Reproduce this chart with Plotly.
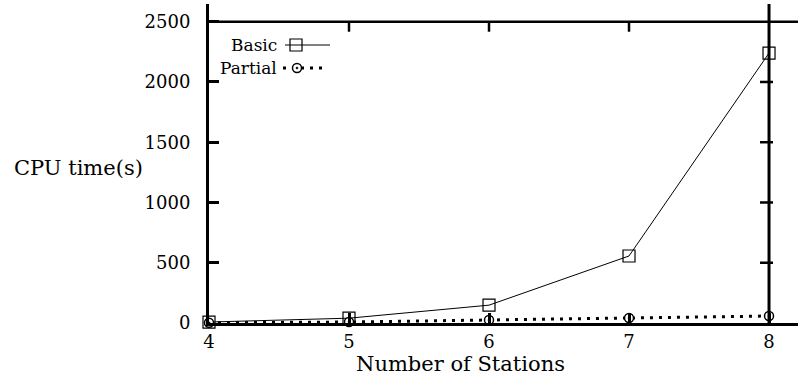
import plotly.graph_objects as go

stations = [4, 5, 6, 7, 8]
basic = [8, 40, 148, 556, 2240]
partial = [2, 8, 25, 41, 58]
y_ticks = [0, 500, 1000, 1500, 2000, 2500]
x_ticks = [4, 5, 6, 7, 8]

FONT = "DejaVu Serif"
W, H = 798, 381
L, R, T, B = 209, 0, 4, 58
PW, PH = W - L - R, H - T - B
Y_MAX = 2647


def px(xp):
    return (xp - L) / PW


def py(yp):
    return (H - B - yp) / PH


fig = go.Figure()

# top border tick marks (x = 5, 6, 7 hanging from the y = 2500 line)
tick_dy = 10 * Y_MAX / PH
tx, ty = [], []
for xv in x_ticks[1:-1]:
    tx += [xv, xv, None]
    ty += [2500, 2500 - tick_dy, None]
fig.add_trace(go.Scatter(x=tx, y=ty, mode="lines", line=dict(color="black", width=2.5),
                         showlegend=False, hoverinfo="skip", cliponaxis=False))

fig.add_trace(go.Scatter(
    x=stations, y=basic, mode="lines+markers", name="Basic",
    line=dict(color="black", width=1),
    marker=dict(symbol="square-open", size=12, color="black", line=dict(width=1.2)),
    cliponaxis=False, showlegend=False))
fig.add_trace(go.Scatter(
    x=stations, y=partial, mode="lines+markers", name="Partial",
    line=dict(color="black", width=3, dash="3px,6px"),
    marker=dict(symbol="circle-dot", size=9, color="white", line=dict(width=1.5, color="black")),
    cliponaxis=False, showlegend=False))

# legend samples in pixel-like overlay axes
fig.add_trace(go.Scatter(x=[285, 330], y=[45, 45], mode="lines", xaxis="x2", yaxis="y2",
                         line=dict(color="black", width=1), showlegend=False, hoverinfo="skip"))
fig.add_trace(go.Scatter(x=[296], y=[45], mode="markers", xaxis="x2", yaxis="y2",
                         marker=dict(symbol="square-open", size=12, color="black", line=dict(width=1.2)),
                         showlegend=False, hoverinfo="skip"))
fig.add_trace(go.Scatter(x=[283, 328], y=[68, 68], mode="lines", xaxis="x2", yaxis="y2",
                         line=dict(color="black", width=3, dash="3px,6px"), showlegend=False, hoverinfo="skip"))
fig.add_trace(go.Scatter(x=[297], y=[68], mode="markers", xaxis="x2", yaxis="y2",
                         marker=dict(symbol="circle-dot", size=9, color="white", line=dict(width=1.5, color="black")),
                         showlegend=False, hoverinfo="skip"))

fig.update_layout(
    width=W, height=H, margin=dict(l=L, r=R, t=T, b=B, autoexpand=False),
    paper_bgcolor="white", plot_bgcolor="white",
    font=dict(family=FONT, size=18, color="black"),
    xaxis=dict(range=[4, 8.207], tickvals=x_ticks, ticktext=[str(v) for v in x_ticks],
               showgrid=False, zeroline=False, showline=True, linecolor="black", linewidth=3,
               ticks="inside", ticklen=10, tickwidth=2.5, tickcolor="black", automargin=False,
               tickfont=dict(family=FONT, size=18)),
    yaxis=dict(range=[0, Y_MAX], tickvals=y_ticks, ticktext=[str(v) for v in y_ticks],
               showgrid=False, zeroline=False, showline=True, linecolor="black", linewidth=3,
               ticks="inside", ticklen=10, tickwidth=2.5, tickcolor="black", automargin=False,
               ticklabelstandoff=12,
               tickfont=dict(family=FONT, size=18)),
    xaxis2=dict(range=[209, 798], overlaying="x", visible=False, fixedrange=True),
    yaxis2=dict(range=[323, 4], overlaying="y", visible=False, fixedrange=True),
)

# border lines at y=2500 and x=8
fig.add_shape(type="line", xref="paper", yref="y", x0=0, x1=1, y0=2500, y1=2500,
              line=dict(color="black", width=2.5), layer="above")
fig.add_shape(type="line", xref="x", yref="paper", x0=8, x1=8, y0=0, y1=1,
              line=dict(color="black", width=3), layer="above")
for yv in y_ticks[1:-1]:
    fig.add_shape(type="line", xref="x", yref="y", xsizemode="pixel", xanchor=8, layer="above",
                  y0=yv, y1=yv, x0=-9, x1=4, line=dict(color="black", width=2.5))

# legend labels
fig.add_annotation(text="Basic", x=px(279), y=py(45), xref="paper", yref="paper",
                   xanchor="right", yanchor="middle",
                   showarrow=False, font=dict(family=FONT, size=17))
fig.add_annotation(text="Partial", x=px(279), y=py(68), xref="paper", yref="paper",
                   xanchor="right", yanchor="middle",
                   showarrow=False, font=dict(family=FONT, size=17))

# axis titles
fig.add_annotation(text="CPU time(s)", x=px(78), y=py(168), xref="paper", yref="paper",
                   xanchor="center", yanchor="middle", showarrow=False, font=dict(family=FONT, size=21))
fig.add_annotation(text="Number of Stations", x=px(460), y=py(364), xref="paper", yref="paper",
                   xanchor="center", yanchor="middle", showarrow=False, font=dict(family=FONT, size=21))

fig.write_html("out.html", post_script="document.body.style.margin='0px';",
               config={"displayModeBar": False})
